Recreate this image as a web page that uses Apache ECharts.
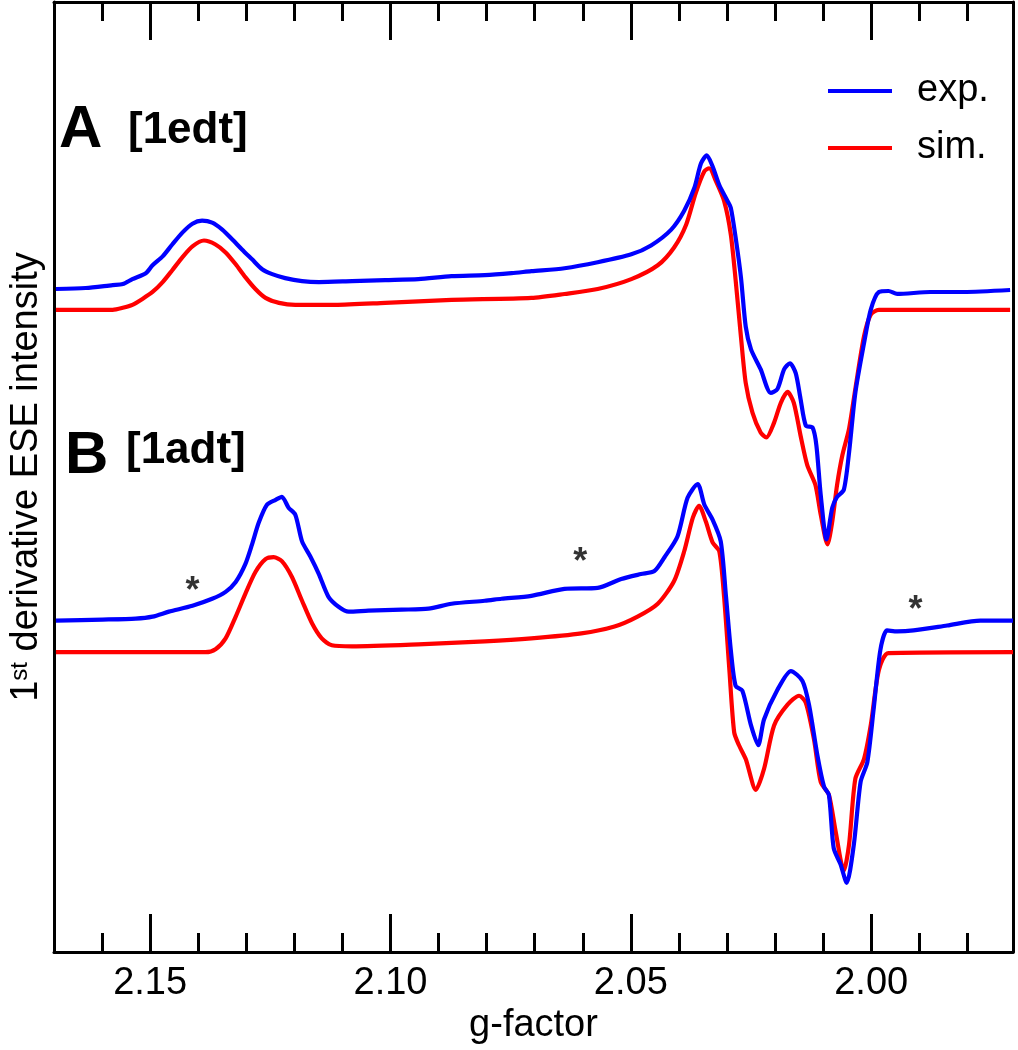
<!DOCTYPE html>
<html>
<head>
<meta charset="utf-8">
<script src="https://cdn.jsdelivr.net/npm/echarts@6/dist/echarts.min.js"></script>
<style>html,body{margin:0;padding:0;background:#fff}#c{width:1018px;height:1050px}</style>
</head>
<body>
<div id="c"></div>
<script>
// g-factor values and 1st-derivative intensities (arbitrary units, offsets included)
const gAexp = [2.1696,2.1634,2.1578,2.1557,2.1537,2.1509,2.1495,2.1474,2.1454,2.1433,2.1412,2.1392,2.1371,2.1350,2.1329,2.1309,2.1288,2.1267,2.1246,2.1219,2.1184,2.1149,2.1080,2.1011,2.0942,2.0873,2.0804,2.0748,2.0707,2.0638,2.0569,2.0499,2.0458,2.0416,2.0389,2.0368,2.0354,2.0342,2.0330,2.0316,2.0299,2.0292,2.0282,2.0271,2.0261,2.0250,2.0230,2.0209,2.0195,2.0181,2.0169,2.0157,2.0147,2.0136,2.0122,2.0114,2.0105,2.0093,2.0081,2.0071,2.0057,2.0046,2.0033,2.0015,2.0001,1.9984,1.9964,1.9946,1.9877,1.9808,1.9711];
const yAexp = [670,671,674,675,680,686,694,703,715,727,736,739,737,730,720,710,700,690,685,681,678,677,678,679,680,683,684,686,688,691,697,705,714,730,749,772,797,805,794,775,759,752,722,682,632,609,589,565,569,589,595,585,559,532,530,512,462,417,449,460,467,505,565,615,649,667,668,665,667,667,669];

const gAsim = [2.1696,2.1578,2.1557,2.1537,2.1516,2.1495,2.1474,2.1454,2.1433,2.1412,2.1388,2.1364,2.1343,2.1322,2.1302,2.1281,2.1260,2.1232,2.1198,2.1115,2.1011,2.0873,2.0707,2.0638,2.0569,2.0499,2.0444,2.0410,2.0385,2.0365,2.0347,2.0337,2.0323,2.0306,2.0292,2.0282,2.0271,2.0261,2.0247,2.0230,2.0218,2.0202,2.0188,2.0174,2.0161,2.0147,2.0133,2.0116,2.0105,2.0091,2.0081,2.0071,2.0060,2.0046,2.0033,2.0015,2.0001,1.9984,1.9711];
const yAsim = [649,649,651,654,660,667,677,689,702,713,719,715,707,695,682,670,661,656,654,654,656,659,661,665,670,680,694,712,735,767,789,792,779,759,725,679,622,575,545,525,520,535,555,566,555,522,492,472,442,412,435,472,502,529,569,622,644,649,649];

const gBexp = [2.1696,2.1599,2.1530,2.1495,2.1461,2.1412,2.1371,2.1343,2.1322,2.1302,2.1288,2.1274,2.1257,2.1239,2.1226,2.1212,2.1198,2.1184,2.1167,2.1149,2.1129,2.1108,2.1087,2.1046,2.0977,2.0921,2.0873,2.0804,2.0769,2.0707,2.0638,2.0569,2.0520,2.0479,2.0451,2.0430,2.0403,2.0382,2.0361,2.0347,2.0330,2.0313,2.0302,2.0292,2.0282,2.0268,2.0250,2.0235,2.0223,2.0195,2.0167,2.0143,2.0129,2.0112,2.0098,2.0088,2.0078,2.0064,2.0051,2.0036,2.0022,2.0008,1.9995,1.9981,1.9967,1.9946,1.9912,1.9842,1.9773,1.9705];
const yBexp = [335,336,337,339,344,350,357,364,374,392,412,434,452,457,460,449,442,415,400,382,359,349,344,345,346,347,352,355,357,360,367,368,377,382,385,399,420,459,473,452,437,415,359,305,269,264,229,209,235,265,284,274,249,199,167,159,105,89,70,109,172,192,245,305,325,324,325,330,335,335];

const gBsim = [2.1696,2.1385,2.1364,2.1343,2.1322,2.1302,2.1281,2.1260,2.1243,2.1226,2.1205,2.1184,2.1163,2.1143,2.1122,2.1080,2.0942,2.0804,2.0707,2.0603,2.0534,2.0486,2.0444,2.0410,2.0389,2.0371,2.0358,2.0344,2.0330,2.0316,2.0306,2.0295,2.0285,2.0275,2.0261,2.0240,2.0223,2.0202,2.0174,2.0150,2.0136,2.0119,2.0105,2.0088,2.0074,2.0057,2.0046,2.0033,2.0015,2.0001,1.9984,1.9964,1.9705];
const yBsim = [303,303,306,317,339,362,384,397,399,395,379,355,332,317,310,309,311,314,317,322,329,339,352,375,405,439,451,435,414,405,359,285,222,209,195,164,185,229,250,259,252,215,172,159,122,82,109,175,195,229,285,302,303];

// asterisk markers (g, intensity)
const gStar = [2.1412, 2.0605, 1.9908];
const yStar = [364, 393, 345];

const xTickLabels = ['2.15','2.10','2.05','2.00'];

const FONT = '"Liberation Sans", Arial, Helvetica, sans-serif';
const zip = (a, b) => a.map((v, i) => [v, b[i]]);

const chart = echarts.init(document.getElementById('c'), null, {renderer: 'canvas'});

const xBase = {
  type: 'value', min: 1.9705, max: 2.17, inverse: true,
  splitNumber: 4, minInterval: 0.05, maxInterval: 0.05,
  axisLine: {show: true, onZero: false, lineStyle: {color: '#000', width: 3}},
  axisTick: {show: true, inside: true, length: 38, lineStyle: {color: '#000', width: 3}},
  minorTick: {show: true, splitNumber: 5, length: 19, lineStyle: {color: '#000', width: 3}},
  splitLine: {show: false}, minorSplitLine: {show: false}
};

const lineSeries = (name, g, y, color, z) => ({
  name: name, type: 'line', data: zip(g, y), showSymbol: false, symbol: 'none',
  smooth: 0.25, color: color, lineStyle: {color: color, width: 4.2, join: 'round'}, z: z
});

chart.setOption({
  animation: false,
  backgroundColor: '#fff',
  grid: {left: 51, right: 5, top: 2, bottom: 88, containLabel: false},
  xAxis: [
    Object.assign({}, xBase, {
      position: 'bottom',
      axisLabel: {
        show: true, showMinLabel: false, showMaxLabel: false, margin: 12,
        fontSize: 38, color: '#000', fontFamily: FONT,
        formatter: v => { const s = v.toFixed(2); return xTickLabels.indexOf(s) >= 0 ? s : ''; }
      },
      name: 'g-factor', nameLocation: 'middle', nameGap: 48,
      nameTextStyle: {fontSize: 38, color: '#000', fontFamily: FONT}
    }),
    Object.assign({}, xBase, {position: 'top', axisLabel: {show: false}})
  ],
  yAxis: [
    {
      type: 'value', min: 0, max: 960, position: 'left',
      axisLine: {show: true, onZero: false, lineStyle: {color: '#000', width: 3}},
      axisTick: {show: false}, axisLabel: {show: false}, splitLine: {show: false},
      name: '{a|1}{b|st}{a| derivative ESE intensity}', nameLocation: 'middle', nameGap: 8, nameRotate: 90,
      nameTextStyle: {
        fontFamily: FONT, color: '#000',
        rich: {
          a: {fontSize: 38, fontFamily: FONT, color: '#000', verticalAlign: 'bottom'},
          b: {fontSize: 24, fontFamily: FONT, color: '#000', verticalAlign: 'top'}
        }
      }
    },
    {
      type: 'value', min: 0, max: 960, position: 'right',
      axisLine: {show: true, onZero: false, lineStyle: {color: '#000', width: 3}},
      axisTick: {show: false}, axisLabel: {show: false}, splitLine: {show: false}
    }
  ],
  legend: {
    orient: 'vertical', left: 823, top: 67, itemWidth: 64, itemHeight: 4, itemGap: 19,
    icon: 'rect', data: ['exp.', 'sim.'],
    textStyle: {fontSize: 38, color: '#000', fontFamily: FONT, padding: [0, 0, 0, 20]}
  },
  series: [
    lineSeries('sim.', gAsim, yAsim, '#ff0000', 2),
    lineSeries('exp.', gAexp, yAexp, '#0000ff', 3),
    lineSeries('sim.', gBsim, yBsim, '#ff0000', 2),
    lineSeries('exp.', gBexp, yBexp, '#0000ff', 3),
    {name: 'stars', type: 'scatter', data: zip(gStar, yStar), symbolSize: 0,
      label: {show: true, position: 'inside', formatter: '*', fontSize: 36, fontWeight: 'bold', color: '#000', fontFamily: FONT}, z: 4}
  ],
  graphic: [
    {type: 'text', left: 59, top: 100, style: {text: 'A', font: 'bold 60px ' + FONT, fill: '#000'}},
    {type: 'text', left: 128, top: 109, style: {text: '[1edt]', font: 'bold 44px ' + FONT, fill: '#000'}},
    {type: 'text', left: 65, top: 426, style: {text: 'B', font: 'bold 60px ' + FONT, fill: '#000'}},
    {type: 'text', left: 126, top: 429, style: {text: '[1adt]', font: 'bold 44px ' + FONT, fill: '#000'}}
  ]
});
</script>
</body>
</html>
